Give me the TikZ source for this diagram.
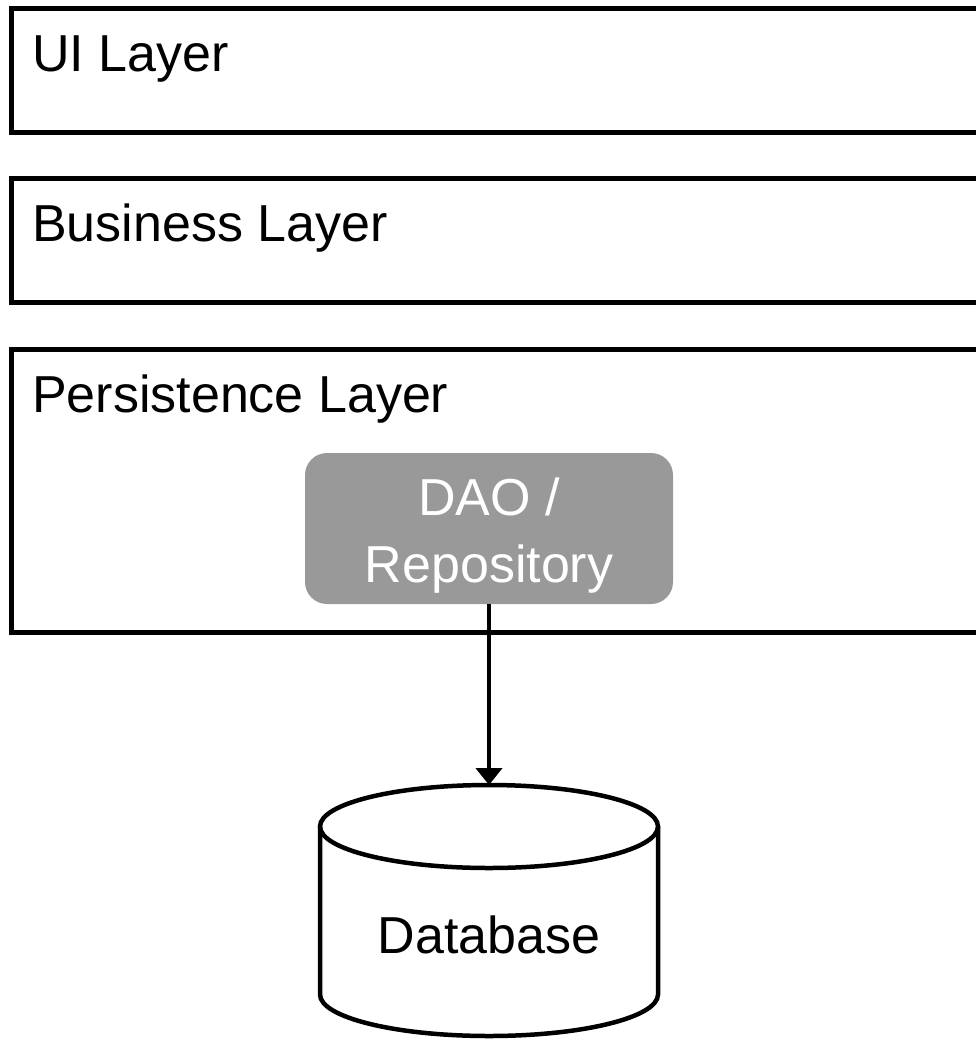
\documentclass[tikz,border=0pt]{standalone}
\usepackage{fontspec}
\setmainfont{Liberation Sans}
\usetikzlibrary{arrows.meta}
\definecolor{daogray}{HTML}{999999}
\tikzset{
  layer/.style={draw, line width=4.5pt, anchor=north west, inner sep=0, outer sep=0, minimum width=1000pt},
  layerlabel/.style={anchor=base west, inner sep=0, font=\fontsize{52}{62}\selectfont},
  daobox/.style={fill=daogray, rounded corners=22pt, text=white, align=center, inner sep=0,
    minimum width=368pt, minimum height=151pt, text height=118pt, text depth=11pt,
    font=\fontsize{52}{67}\selectfont},
  dbline/.style={line width=4.5pt},
  flow/.style={line width=4.5pt, -{Triangle[length=17pt,width=26pt]}}
}
\begin{document}
\begin{tikzpicture}[x=1pt,y=-1pt]
  \useasboundingbox (0,0) rectangle (975,1039);
  \foreach \name/\txt/\top/\ht in {ui/UI Layer/8.5/124, biz/Business Layer/178.5/124, pers/Persistence Layer/349.5/283}
    {
      \node[layer, minimum height=\ht pt] (\name) at (11.5,\top) {};
      \node[layerlabel] (\name lbl) at (32,\top+63) {\txt};
    }
  \node[daobox] (dao) at (489,528.5) {DAO /\\Repository};
  % database cylinder
  \coordinate (dbtop) at (489,785);
  \draw[dbline] (320,826.5) -- (320,994.5) arc[start angle=180, end angle=360, x radius=169pt, y radius=41.5pt] -- (658,826.5);
  \draw[dbline] (489,826.5) ellipse[x radius=169pt, y radius=41.5pt];
  \node[anchor=base, inner sep=0, font=\fontsize{52}{62}\selectfont] (db) at (489,953) {Database};
  \draw[flow] (dao) -- (dbtop);
\end{tikzpicture}
\end{document}
